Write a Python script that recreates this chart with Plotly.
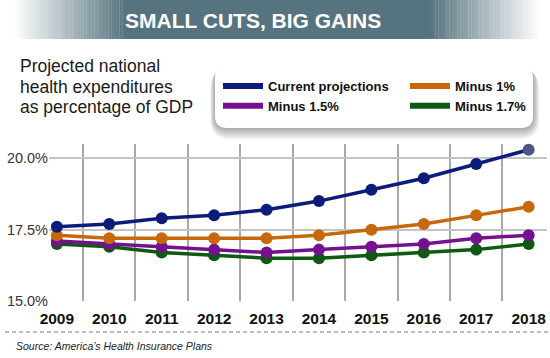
import plotly.graph_objects as go

years = [2009, 2010, 2011, 2012, 2013, 2014, 2015, 2016, 2017, 2018]
current = [17.6, 17.7, 17.9, 18.0, 18.2, 18.5, 18.9, 19.3, 19.8, 20.3]
minus_1 = [17.3, 17.2, 17.2, 17.2, 17.2, 17.3, 17.5, 17.7, 18.0, 18.3]
minus_15 = [17.1, 17.0, 16.9, 16.8, 16.7, 16.8, 16.9, 17.0, 17.2, 17.3]
minus_17 = [17.0, 16.9, 16.7, 16.6, 16.5, 16.5, 16.6, 16.7, 16.8, 17.0]
series_names = ["Current projections", "Minus 1%", "Minus 1.5%", "Minus 1.7%"]
y_tickvals = [15, 17.5, 20]
y_ticktext = ["15.0%", "17.5%", "20.0%"]

W, H = 550, 358
ML, MR, MT, MB = 49, 3, 144, 57
PW, PH = W - ML - MR, H - MT - MB


def px(x):
    return (x - ML) / PW


def py(y):
    return (H - MB - y) / PH


colors = {
    "Current projections": "#0b1c7a",
    "Minus 1%": "#c8680c",
    "Minus 1.5%": "#74118f",
    "Minus 1.7%": "#0e5a12",
}
values = {
    "Current projections": current,
    "Minus 1%": minus_1,
    "Minus 1.5%": minus_15,
    "Minus 1.7%": minus_17,
}

fig = go.Figure()
# draw bottom series first so the top ones overlap
for name in reversed(series_names):
    c = colors[name]
    mcol = [c] * len(years)
    if name == "Current projections":
        mcol[-1] = "#4d5782"
    fig.add_trace(go.Scatter(
        x=years, y=values[name], mode="lines+markers", name=name,
        line=dict(color=c, width=3.5),
        marker=dict(color=mcol, size=12),
        showlegend=False, cliponaxis=False, hoverinfo="skip"))
# legend entries
for name in series_names:
    fig.add_trace(go.Scatter(
        x=[None], y=[None], mode="lines", name=name,
        line=dict(color=colors[name], width=6), showlegend=True))

shapes = []
# banner gradient
base = (0x56, 0x74, 0x7f)


def blend(t):
    r = int(round(255 + (base[0] - 255) * t))
    g = int(round(255 + (base[1] - 255) * t))
    b = int(round(255 + (base[2] - 255) * t))
    return f"rgb({r},{g},{b})"


steps = 40
lx0, lx1 = 14, 125
rx0, rx1 = 430, 540
for i in range(steps):
    a = lx0 + (lx1 - lx0) * i / steps
    b = lx0 + (lx1 - lx0) * (i + 1) / steps
    shapes.append(dict(type="rect", xref="paper", yref="paper", x0=px(a), x1=px(b) + 0.0005,
                       y0=py(39), y1=py(0), fillcolor=blend((i + 0.5) / steps), line=dict(width=0), layer="below"))
    a = rx0 + (rx1 - rx0) * i / steps
    b = rx0 + (rx1 - rx0) * (i + 1) / steps
    shapes.append(dict(type="rect", xref="paper", yref="paper", x0=px(a), x1=px(b) + 0.0005,
                       y0=py(39), y1=py(0), fillcolor=blend(1 - (i + 0.5) / steps), line=dict(width=0), layer="below"))
shapes.append(dict(type="rect", xref="paper", yref="paper", x0=px(lx1), x1=px(rx0),
                   y0=py(39), y1=py(0), fillcolor=blend(1), line=dict(width=0), layer="below"))


def rrect(x0, y0, x1, y1, r):
    X = lambda v: f"{px(v):.5f}"
    Y = lambda v: f"{py(v):.5f}"
    return (f"M{X(x0 + r)},{Y(y0)} L{X(x1 - r)},{Y(y0)} Q{X(x1)},{Y(y0)} {X(x1)},{Y(y0 + r)} "
            f"L{X(x1)},{Y(y1 - r)} Q{X(x1)},{Y(y1)} {X(x1 - r)},{Y(y1)} "
            f"L{X(x0 + r)},{Y(y1)} Q{X(x0)},{Y(y1)} {X(x0)},{Y(y1 - r)} "
            f"L{X(x0)},{Y(y0 + r)} Q{X(x0)},{Y(y0)} {X(x0 + r)},{Y(y0)} Z")


# legend box shadow
for k in range(8, 0, -1):
    shapes.append(dict(type="path", xref="paper", yref="paper",
                       path=rrect(215 - k * 0.6, 66 + k * 0.4, 533 + k * 0.8, 128 + k * 1.4, 12 + k),
                       fillcolor="rgba(0,0,0,0.045)", line=dict(width=0), layer="below"))
shapes.append(dict(type="path", xref="paper", yref="paper", path=rrect(215, 66, 533, 128, 12),
                   fillcolor="white", line=dict(width=0), layer="below"))
# dashed separator
shapes.append(dict(type="line", xref="paper", yref="paper", x0=px(5), x1=px(550), y0=py(332), y1=py(332),
                   line=dict(color="#777", width=1, dash="4px,3px")))

annotations = [
    dict(text="<b>SMALL CUTS, BIG GAINS</b>", x=px(253), y=py(20.5), xref="paper", yref="paper",
         xanchor="center", yanchor="middle", showarrow=False,
         font=dict(family="Liberation Sans", size=21, color="white")),
    dict(text="<i>Source: America\u2019s Health Insurance Plans</i>", x=px(14), y=py(346),
         xref="paper", yref="paper", xanchor="left", yanchor="middle", showarrow=False,
         font=dict(family="Liberation Sans", size=10.5, color="#222")),
]
for txt, yy in [("Projected national", 66), ("health expenditures", 86.5), ("as percentage of GDP", 106.5)]:
    annotations.append(dict(text=txt, x=px(18), y=py(yy), xref="paper", yref="paper",
                            xanchor="left", yanchor="middle", showarrow=False,
                            font=dict(family="Liberation Sans", size=17.5, color="#1a1a1a")))

fig.update_layout(
    width=W, height=H,
    margin=dict(l=ML, r=MR, t=MT, b=MB, autoexpand=False),
    paper_bgcolor="white", plot_bgcolor="white",
    font=dict(family="Liberation Sans", color="#222"),
    showlegend=True,
    legend=dict(orientation="h", x=px(218), y=py(71), xanchor="left", yanchor="top",
                bgcolor="rgba(0,0,0,0)", entrywidth=132, itemwidth=40,
                font=dict(family="Liberation Sans", size=13, color="#111", weight="bold"),
                tracegroupgap=0),
    xaxis=dict(range=[2008.85, 2018.35], tickvals=years, ticktext=[f"<b>{y}</b>" for y in years],
               showgrid=False, zeroline=False, showline=False, ticks="", ticklabelstandoff=6,
               tickfont=dict(family="Liberation Sans", size=15.5, color="#111"),
               minor=dict(tick0=2009.5, dtick=1, showgrid=True, gridcolor="#a8a8a8", gridwidth=1.5)),
    yaxis=dict(range=[15, 20.5], tickvals=y_tickvals, ticktext=y_ticktext,
               showgrid=True, gridcolor="#c4c4c4", gridwidth=1.5, zeroline=False, showline=False, ticks="",
               tickfont=dict(family="Liberation Sans", size=14.5, color="#333")),
    shapes=shapes, annotations=annotations,
)
fig.write_html("out.html", config={"displayModeBar": False},
               post_script="document.body.style.margin='0';")
